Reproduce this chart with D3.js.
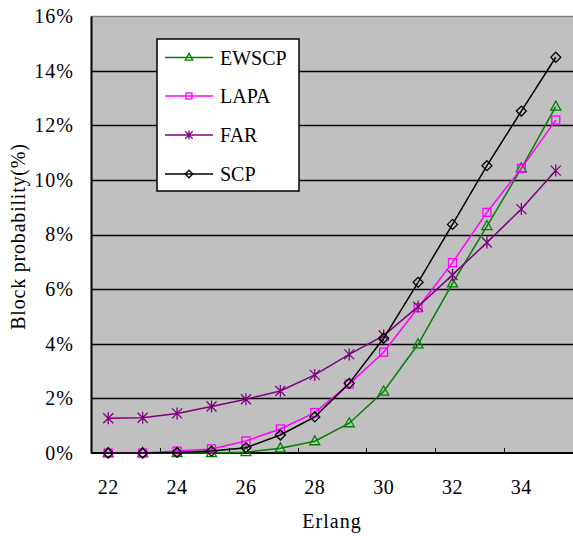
<!DOCTYPE html>
<html>
<head>
<meta charset="utf-8">
<script src="https://cdn.jsdelivr.net/npm/d3@7"></script>
<style>
  html, body { margin: 0; padding: 0; background: #fff; }
  svg { display: block; }
  text { font-family: "Liberation Serif", "Times New Roman", serif; fill: #000; }
</style>
</head>
<body>
<svg id="chart" width="573" height="536"></svg>
<script>
// Offered traffic (Erlang) on the x axis
const categories = [22, 23, 24, 25, 26, 27, 28, 29, 30, 31, 32, 33, 34, 35];
// Block probability in percent, one array per algorithm
const ewscp = [0, 0, 0, 0, 0.03, 0.17, 0.43, 1.09, 2.25, 3.98, 6.21, 8.31, 10.42, 12.68];
const lapa  = [0, 0, 0.07, 0.15, 0.44, 0.88, 1.48, 2.52, 3.69, 5.32, 6.97, 8.81, 10.42, 12.19];
const far   = [1.27, 1.29, 1.45, 1.70, 1.97, 2.27, 2.86, 3.61, 4.30, 5.36, 6.52, 7.71, 8.93, 10.34];
const scp   = [0, 0, 0.02, 0.07, 0.19, 0.66, 1.32, 2.55, 4.20, 6.25, 8.37, 10.52, 12.52, 14.49];
const yTicks = [0, 2, 4, 6, 8, 10, 12, 14, 16];
const xTickLabels = [22, 24, 26, 28, 30, 32, 34];

const series = [
  { name: "EWSCP", values: ewscp, color: "#008000", marker: "triangle" },
  { name: "LAPA",  values: lapa,  color: "#FF00FF", marker: "square" },
  { name: "FAR",   values: far,   color: "#800080", marker: "star" },
  { name: "SCP",   values: scp,   color: "#000000", marker: "diamond" }
];

const svg = d3.select("#chart");
const plot = { left: 91, right: 573, top: 16, bottom: 453 };

const x = d3.scalePoint().domain(categories).range([plot.left, plot.right]).padding(0.5);
const xBand = d3.scaleBand().domain(categories).range([plot.left, plot.right]);
const y = d3.scaleLinear().domain([0, 16]).range([plot.bottom, plot.top]);

// plot background
svg.append("rect")
  .attr("x", plot.left).attr("y", plot.top)
  .attr("width", plot.right - plot.left).attr("height", plot.bottom - plot.top)
  .attr("fill", "#C0C0C0");

// top border
svg.append("line")
  .attr("x1", plot.left).attr("x2", plot.right)
  .attr("y1", plot.top + 0.5).attr("y2", plot.top + 0.5)
  .attr("stroke", "#808080").attr("stroke-width", 1.5);

// horizontal gridlines
svg.append("g").selectAll("line")
  .data(yTicks.filter(v => v > 0 && v < 16))
  .join("line")
  .attr("x1", plot.left).attr("x2", plot.right)
  .attr("y1", d => Math.round(y(d)) + 0.5).attr("y2", d => Math.round(y(d)) + 0.5)
  .attr("stroke", "#000").attr("stroke-width", 1.3);

// y axis
const yAxis = d3.axisLeft(y).tickValues(yTicks).tickSize(0).tickPadding(17)
  .tickFormat(d => d + "%");
const gy = svg.append("g").attr("transform", `translate(${plot.left},0)`).call(yAxis);
gy.select(".domain").attr("stroke", "#000").attr("stroke-width", 2);
gy.selectAll("text")
  .attr("font-size", 20)
  .attr("letter-spacing", 1)
  .attr("font-family", "Liberation Serif, serif");

// x axis line and inner tick marks between category pairs
svg.append("line")
  .attr("x1", plot.left).attr("x2", plot.right)
  .attr("y1", plot.bottom).attr("y2", plot.bottom)
  .attr("stroke", "#000").attr("stroke-width", 2);

svg.append("g").selectAll("line")
  .data(categories.filter((c, i) => i > 0 && i % 2 === 0))
  .join("line")
  .attr("x1", d => Math.round(xBand(d)) + 0.5).attr("x2", d => Math.round(xBand(d)) + 0.5)
  .attr("y1", plot.bottom).attr("y2", plot.bottom - 5)
  .attr("stroke", "#000").attr("stroke-width", 1);

svg.append("g").selectAll("text")
  .data(xTickLabels)
  .join("text")
  .attr("x", d => x(d))
  .attr("y", 494)
  .attr("text-anchor", "middle")
  .attr("font-size", 20)
  .attr("letter-spacing", 0.5)
  .text(d => d);

// axis titles
svg.append("text")
  .attr("x", (plot.left + plot.right) / 2)
  .attr("y", 528)
  .attr("text-anchor", "middle")
  .attr("font-size", 20)
  .attr("letter-spacing", 1)
  .text("Erlang");

svg.append("text")
  .attr("transform", `translate(25,${(plot.top + plot.bottom) / 2 + 2}) rotate(-90)`)
  .attr("text-anchor", "middle")
  .attr("font-size", 20)
  .attr("letter-spacing", 0.8)
  .text("Block probability(%)");

// marker drawing
function drawMarker(g, type, color, k = 1) {
  if (type === "triangle") {
    g.append("path").attr("d", `M0,${-5.5 * k} L${5 * k},${3.5 * k} L${-5 * k},${3.5 * k} Z`)
      .attr("fill", "none").attr("stroke", color).attr("stroke-width", 1.3);
  } else if (type === "square") {
    g.append("rect").attr("x", -4 * k).attr("y", -4 * k).attr("width", 8 * k).attr("height", 8 * k)
      .attr("fill", "none").attr("stroke", color).attr("stroke-width", 1.3);
  } else if (type === "diamond") {
    g.append("path").attr("d", `M0,${-5 * k} L${5 * k},0 L0,${5 * k} L${-5 * k},0 Z`)
      .attr("fill", "none").attr("stroke", color).attr("stroke-width", 1.3);
  } else if (type === "star") {
    g.append("path").attr("d", `M${-5 * k},${-5 * k} L${5 * k},${5 * k} M${-5 * k},${5 * k} L${5 * k},${-5 * k} M0,${-6 * k} L0,${6 * k}`)
      .attr("fill", "none").attr("stroke", color).attr("stroke-width", 1.3);
  }
}

const line = d3.line().x(d => x(d.c)).y(d => y(d.v));

series.forEach(s => {
  const pts = categories.map((c, i) => ({ c, v: s.values[i] }));
  svg.append("path")
    .datum(pts)
    .attr("d", line)
    .attr("fill", "none")
    .attr("stroke", s.color)
    .attr("stroke-width", 1.5);
  svg.append("g").selectAll("g")
    .data(pts)
    .join("g")
    .attr("transform", d => `translate(${x(d.c)},${y(d.v)})`)
    .each(function () { drawMarker(d3.select(this), s.marker, s.color); });
});

// legend
const legend = svg.append("g");
legend.append("rect")
  .attr("x", 157).attr("y", 39).attr("width", 142).attr("height", 152)
  .attr("fill", "#fff").attr("stroke", "#000").attr("stroke-width", 1.5);
const legendY = [57.5, 96, 135, 174];
series.forEach((s, i) => {
  const ly = legendY[i];
  legend.append("line")
    .attr("x1", 165).attr("x2", 213).attr("y1", ly).attr("y2", ly)
    .attr("stroke", s.color).attr("stroke-width", 1.5);
  const m = legend.append("g").attr("transform", `translate(189,${ly})`);
  drawMarker(m, s.marker, s.color, 0.75);
  legend.append("text")
    .attr("x", 220).attr("y", ly + 7)
    .attr("font-size", 20)
    .text(s.name);
});
</script>
</body>
</html>
